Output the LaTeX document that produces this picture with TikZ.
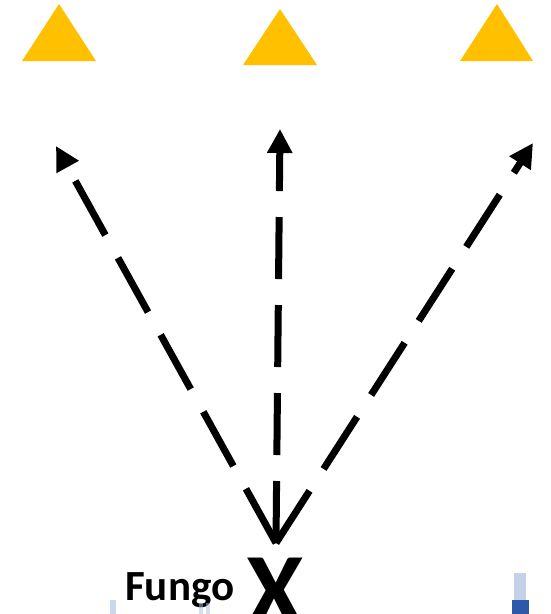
\documentclass[tikz,border=0pt]{standalone}
\usepackage{fontspec}
\setmainfont{Carlito}
\usetikzlibrary{arrows.meta}
\definecolor{gold}{HTML}{FFC000}
\definecolor{artblue}{HTML}{2E59A8}
\definecolor{artlight}{HTML}{A9BEE0}
\begin{document}
\begin{tikzpicture}[x=1pt,y=-1pt,
  flag/.style={fill=gold,draw=none},
  throw/.style={line width=7pt,line cap=butt,dash pattern=on 62pt off 26pt,
    -{Triangle[length=24pt,width=24pt]}},
  lbl/.style={inner sep=0pt,font=\bfseries}]
\useasboundingbox (0,0) rectangle (550,614);
% target triangles
\fill[flag] (59,4) -- (96,61) -- (22,61) -- cycle;
\fill[flag] (280,9) -- (317,65) -- (243,65) -- cycle;
\fill[flag] (497,4) -- (533,61) -- (460,61) -- cycle;
% origin and targets
\coordinate (o) at (276,543);
\coordinate (tl) at (56,146);
\coordinate (tm) at (280,129);
\coordinate (tr) at (533,143);
\draw[throw] (o) -- (tl);
\draw[throw] (o) -- (tm);
\draw[throw] (o) -- (tr);
% labels
\node[lbl,anchor=base west,font=\bfseries\fontsize{43}{43}\selectfont] (fungo) at (125,600) {Fungo};
\node[lbl,anchor=base,font=\bfseries\fontsize{104}{104}\selectfont] (x) at (275,625) {X};
% faint blue artefacts at the bottom edge
\fill[artlight,opacity=0.6] (110,600) rectangle (116,614);
\fill[artlight,opacity=0.5] (199,603) rectangle (203,614);
\fill[artlight,opacity=0.5] (206,603) rectangle (210,614);
\fill[artlight,opacity=0.7] (514,573) rectangle (526,600);
\fill[artblue] (512,600) rectangle (529,614);
\end{tikzpicture}
\end{document}
